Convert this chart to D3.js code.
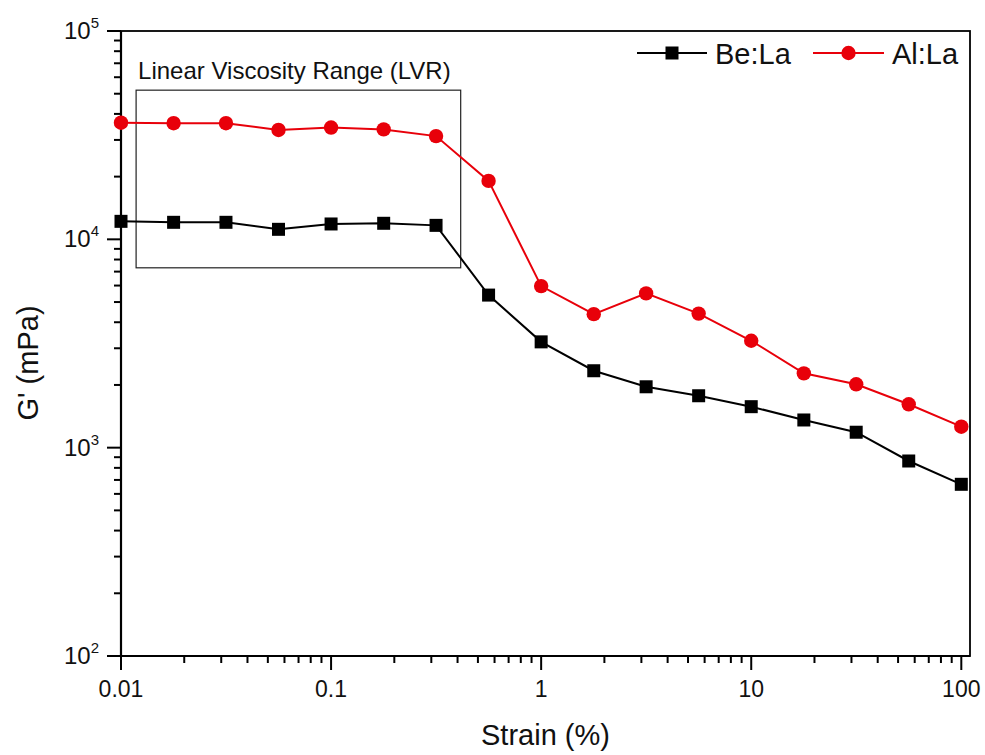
<!DOCTYPE html>
<html>
<head>
<meta charset="utf-8">
<script src="https://cdn.jsdelivr.net/npm/d3@7"></script>
<style>
  html, body { margin: 0; padding: 0; background: #fff; }
  svg { display: block; font-family: "Liberation Sans", Arial, sans-serif; }
</style>
</head>
<body>
<svg id="chart" width="985" height="755"></svg>
<script>
// ---- data ----
const strain = [0.01, 0.0178, 0.0316, 0.0562, 0.1, 0.178, 0.316, 0.562, 1, 1.78, 3.16, 5.62, 10, 17.8, 31.6, 56.2, 100];
const beLa = [12200, 12070, 12070, 11170, 11850, 11940, 11670, 5400, 3220, 2340, 1960, 1775, 1573, 1358, 1186, 863, 667];
const alLa = [36300, 36100, 36100, 33500, 34400, 33700, 31300, 19080, 5965, 4375, 5500, 4400, 3260, 2274, 2014, 1615, 1261];
const seriesNames = ["Be:La", "Al:La"];
const xMajorTicks = [0.01, 0.1, 1, 10, 100];
const xTickLabels = ["0.01", "0.1", "1", "10", "100"];
const yMajorTicks = [100, 1000, 10000, 100000];
const yTickExponents = ["2", "3", "4", "5"];
const xDomain = [0.01, 110];
const yDomain = [100, 100000];
const lvrRange = { x0: 0.0118, x1: 0.414, y0: 7300, y1: 52000 };
const lvrLabel = "Linear Viscosity Range (LVR)";
const xTitle = "Strain (%)";
const yTitle = "G' (mPa)";

// ---- layout ----
const svg = d3.select("#chart");
const L = 121, R = 970, T = 31, B = 656;
const x = d3.scaleLog().domain(xDomain).range([L, R]);
const y = d3.scaleLog().domain(yDomain).range([B, T]);

function minorTicks(lo, hi) {
  const out = [];
  for (let d = Math.floor(Math.log10(lo)); d <= Math.ceil(Math.log10(hi)); d++) {
    for (let m = 2; m <= 9; m++) {
      const v = m * Math.pow(10, d);
      if (v > lo && v < hi) out.push(v);
    }
  }
  return out;
}
const xMinor = minorTicks(xDomain[0], xDomain[1]);
const yMinor = minorTicks(yDomain[0], yDomain[1]);

// frame
svg.append("rect").attr("x", L).attr("y", T).attr("width", R - L).attr("height", B - T)
  .attr("fill", "none").attr("stroke", "#000").attr("stroke-width", 1.8);

// x ticks (outward)
const gx = svg.append("g");
gx.selectAll("line.maj").data(xMajorTicks).enter().append("line")
  .attr("x1", d => x(d)).attr("x2", d => x(d)).attr("y1", B).attr("y2", B + 14)
  .attr("stroke", "#000").attr("stroke-width", 2);
gx.selectAll("line.min").data(xMinor).enter().append("line")
  .attr("x1", d => x(d)).attr("x2", d => x(d)).attr("y1", B).attr("y2", B + 7)
  .attr("stroke", "#000").attr("stroke-width", 2);
gx.selectAll("text").data(xMajorTicks).enter().append("text")
  .attr("x", d => x(d)).attr("y", B + 41).attr("text-anchor", "middle")
  .attr("font-size", 23).attr("fill", "#111").text((d, i) => xTickLabels[i]);
svg.append("line").attr("x1", L).attr("x2", R).attr("y1", B).attr("y2", B)
  .attr("stroke", "#000").attr("stroke-width", 2.2);

// y ticks (outward)
const gy = svg.append("g");
gy.selectAll("line.maj").data(yMajorTicks).enter().append("line")
  .attr("x1", L - 14).attr("x2", L).attr("y1", d => y(d)).attr("y2", d => y(d))
  .attr("stroke", "#000").attr("stroke-width", 2);
gy.selectAll("line.min").data(yMinor).enter().append("line")
  .attr("x1", L - 7).attr("x2", L).attr("y1", d => y(d)).attr("y2", d => y(d))
  .attr("stroke", "#000").attr("stroke-width", 2);
svg.append("line").attr("x1", L).attr("x2", L).attr("y1", T).attr("y2", B)
  .attr("stroke", "#000").attr("stroke-width", 2.2);
yMajorTicks.forEach((v, i) => {
  const t = svg.append("text").attr("x", 99).attr("y", y(v) + 8)
    .attr("text-anchor", "end").attr("font-size", 24).attr("fill", "#111");
  t.append("tspan").text("10");
  t.append("tspan").attr("font-size", 15).attr("dy", -11).text(yTickExponents[i]);
});

// LVR box
svg.append("rect")
  .attr("x", x(lvrRange.x0)).attr("y", y(lvrRange.y1))
  .attr("width", x(lvrRange.x1) - x(lvrRange.x0)).attr("height", y(lvrRange.y0) - y(lvrRange.y1))
  .attr("fill", "none").attr("stroke", "#222").attr("stroke-width", 1.2);
svg.append("text").attr("x", x(lvrRange.x0) + 2).attr("y", y(lvrRange.y1) - 11)
  .attr("font-size", 24).attr("fill", "#111").text(lvrLabel);

// series
const colors = ["#000000", "#e8000a"];
const data = [beLa, alLa];
const line = d3.line().x(d => x(d[0])).y(d => y(d[1]));
data.forEach((vals, si) => {
  const pts = strain.map((s, i) => [s, vals[i]]);
  svg.append("path").datum(pts).attr("d", line).attr("fill", "none")
    .attr("stroke", colors[si]).attr("stroke-width", 2);
  if (si === 0) {
    svg.selectAll(null).data(pts).enter().append("rect")
      .attr("x", d => x(d[0]) - 6.5).attr("y", d => y(d[1]) - 6.5)
      .attr("width", 13).attr("height", 13).attr("fill", colors[si]);
  } else {
    svg.selectAll(null).data(pts).enter().append("circle")
      .attr("cx", d => x(d[0])).attr("cy", d => y(d[1])).attr("r", 7.2).attr("fill", colors[si]);
  }
});

// legend
const legendItems = [
  { x1: 637, x2: 707, tx: 715 },
  { x1: 813, x2: 884, tx: 892 }
];
const ly = 53;
legendItems.forEach((it, i) => {
  svg.append("line").attr("x1", it.x1).attr("x2", it.x2).attr("y1", ly).attr("y2", ly)
    .attr("stroke", colors[i]).attr("stroke-width", 2);
  const cx = (it.x1 + it.x2) / 2;
  if (i === 0) {
    svg.append("rect").attr("x", cx - 6.5).attr("y", ly - 6.5).attr("width", 13).attr("height", 13).attr("fill", colors[i]);
  } else {
    svg.append("circle").attr("cx", cx).attr("cy", ly).attr("r", 7.2).attr("fill", colors[i]);
  }
  svg.append("text").attr("x", it.tx).attr("y", ly + 11).attr("font-size", 29).attr("fill", "#111").text(seriesNames[i]);
});

// axis titles
svg.append("text").attr("x", (L + R) / 2).attr("y", 745).attr("text-anchor", "middle")
  .attr("font-size", 29).attr("fill", "#111").text(xTitle);
svg.append("text").attr("transform", `translate(38,363) rotate(-90)`).attr("text-anchor", "middle")
  .attr("font-size", 29).attr("fill", "#111").text(yTitle);
</script>
</body>
</html>
